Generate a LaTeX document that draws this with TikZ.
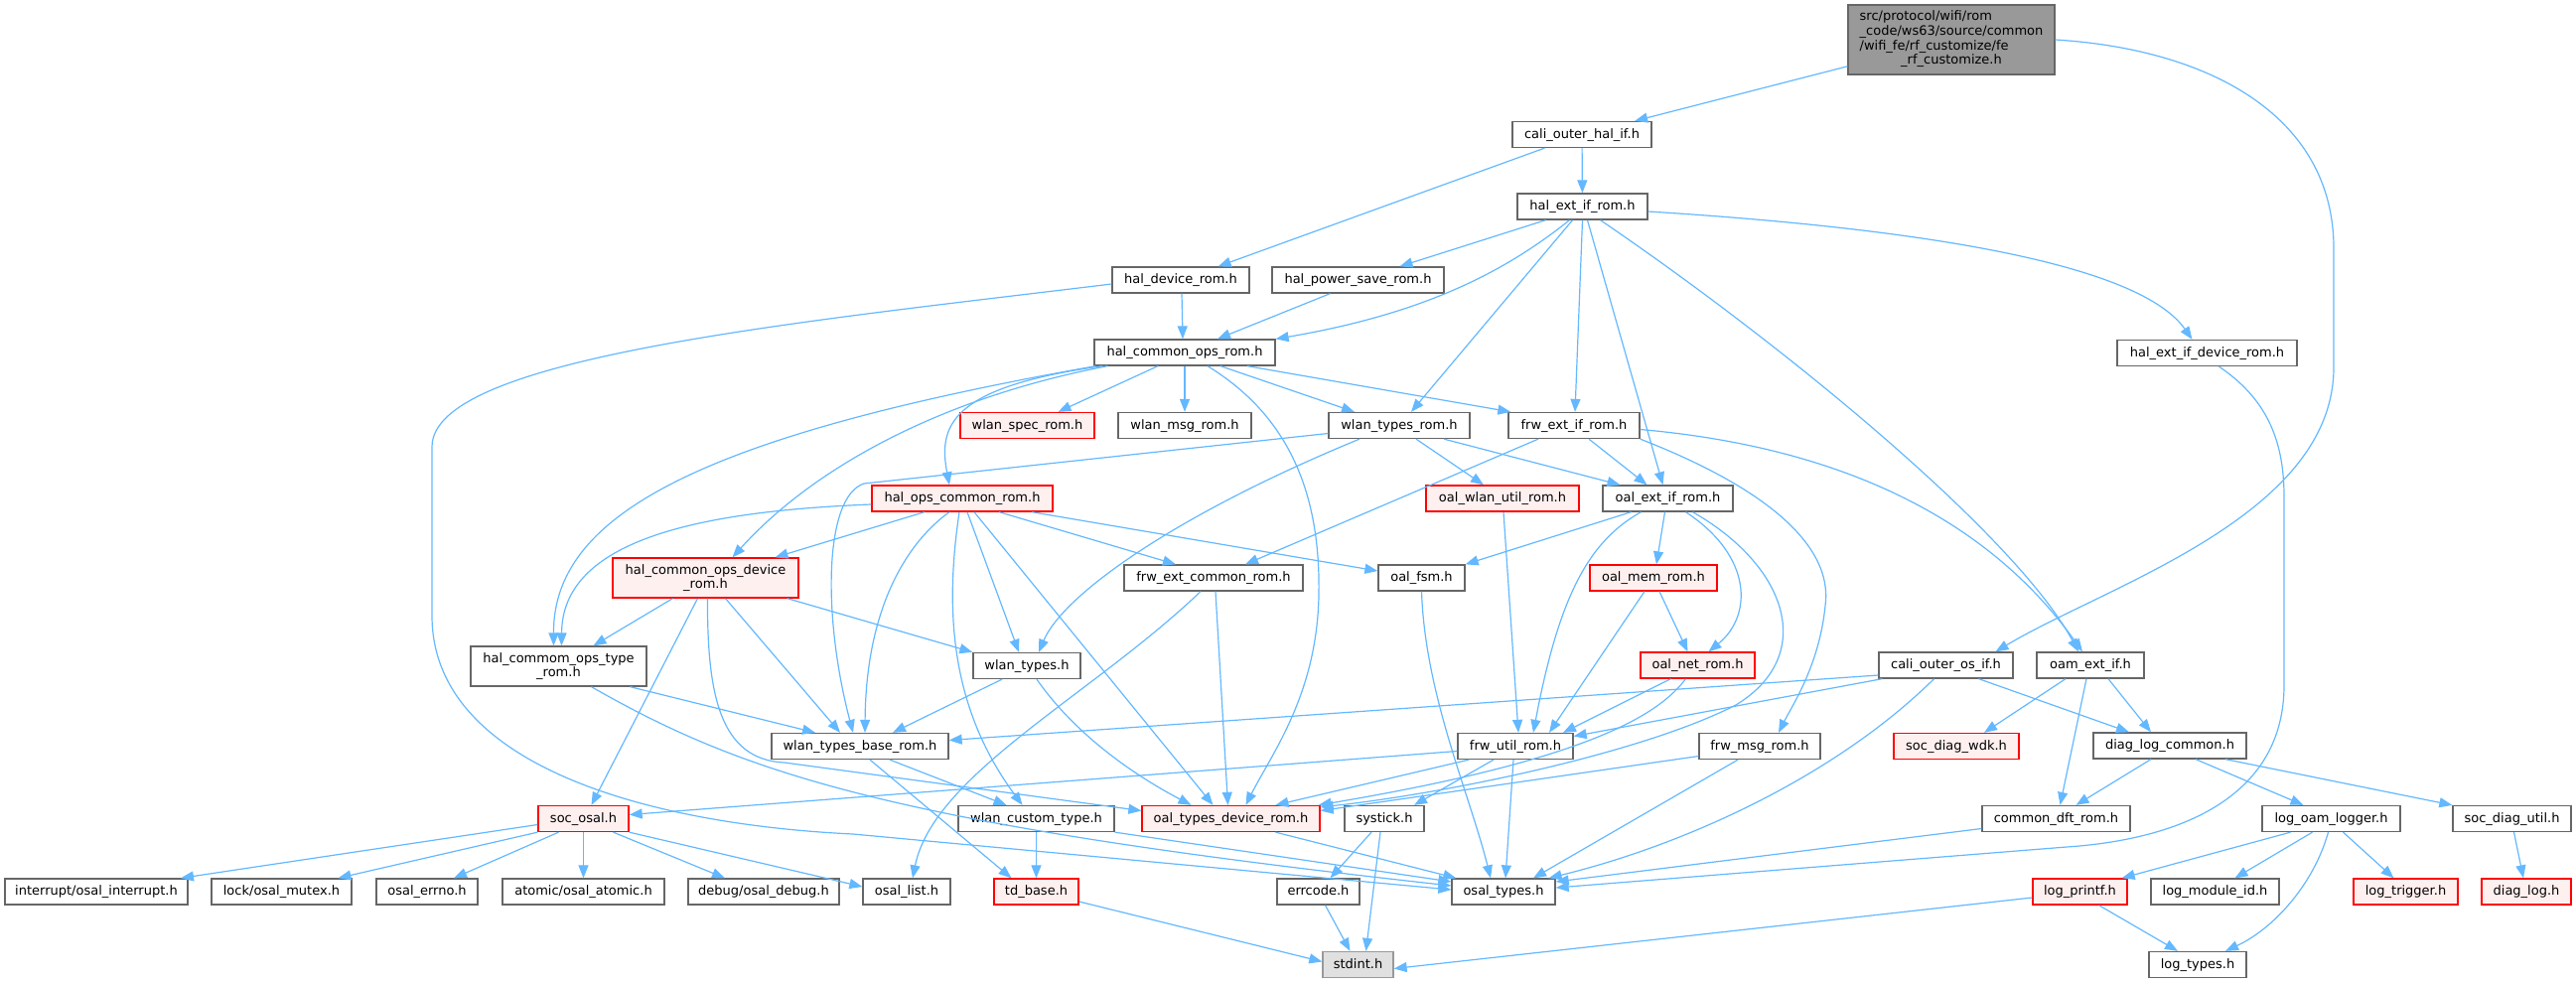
\documentclass[tikz,border=0pt]{standalone}
\usepackage{fontspec}
\setmainfont{DejaVu Sans}
\usetikzlibrary{arrows.meta,calc}
\definecolor{edgec}{HTML}{63B8FF}
\definecolor{g40}{HTML}{666666}
\definecolor{g60}{HTML}{999999}
\definecolor{redfill}{HTML}{FFF0F0}
\definecolor{lgray}{HTML}{E0E0E0}
\tikzset{
 ndb/.style={draw=g40, fill=white, line width=1.3pt, inner sep=0pt, minimum height=26pt, font={\fontsize{13}{14.7}\selectfont}, text=black},
 nd/.style={ndb, text height=10.5pt, text depth=3pt},
 ndr/.style={nd, draw=red, fill=redfill},
 ndrb/.style={ndb, draw=red, fill=redfill, align=center},
 e/.style={draw=edgec, line width=1.2pt, -{Triangle[length=13pt,width=10pt]}},
}
\begin{document}
\begin{tikzpicture}[x=1pt,y=-1pt]
\useasboundingbox (0,0) rectangle (2594,989);
% nodes
\node[ndb,minimum width=208pt,minimum height=70pt,fill=g60] (top) at (1965,40) {\begin{tabular}{@{}l@{}}src/protocol/wifi/rom\\\_code/ws63/source/common\\/wifi\_fe/rf\_customize/fe\\\multicolumn{1}{@{}c@{}}{\_rf\_customize.h}\end{tabular}};
\node[nd,minimum width=140pt] (cohi) at (1593,135.5) {cali\_outer\_hal\_if.h};
\node[nd,minimum width=131pt] (heir) at (1593.5,208) {hal\_ext\_if\_rom.h};
\node[nd,minimum width=138pt] (hdr) at (1189,282) {hal\_device\_rom.h};
\node[nd,minimum width=173pt] (hpsr) at (1367.5,282) {hal\_power\_save\_rom.h};
\node[nd,minimum width=181pt] (heidr) at (2222.5,355.5) {hal\_ext\_if\_device\_rom.h};
\node[nd,minimum width=182pt] (hcor) at (1193,355) {hal\_common\_ops\_rom.h};
\node[ndr,minimum width=135pt] (wsr) at (1034.5,428.5) {wlan\_spec\_rom.h};
\node[nd,minimum width=134pt] (wmr) at (1193,428.5) {wlan\_msg\_rom.h};
\node[nd,minimum width=142pt] (wtr) at (1409,428.5) {wlan\_types\_rom.h};
\node[nd,minimum width=132pt] (feir) at (1585,428.5) {frw\_ext\_if\_rom.h};
\node[ndr,minimum width=182pt] (hocr) at (969,502) {hal\_ops\_common\_rom.h};
\node[ndr,minimum width=154pt] (owur) at (1513,502) {oal\_wlan\_util\_rom.h};
\node[nd,minimum width=131pt] (oeir) at (1679.5,502) {oal\_ext\_if\_rom.h};
\node[ndrb,minimum width=187pt,minimum height=40pt] (hcodr) at (710.5,582) {hal\_common\_ops\_device\\\_rom.h};
\node[nd,minimum width=180pt] (fecr) at (1222,582) {frw\_ext\_common\_rom.h};
\node[nd,minimum width=87pt] (ofsm) at (1431.5,582) {oal\_fsm.h};
\node[ndr,minimum width=128pt] (omr) at (1665,582) {oal\_mem\_rom.h};
\node[ndb,align=center,minimum width=177pt,minimum height=40pt] (hcotr) at (562.5,671) {hal\_commom\_ops\_type\\\_rom.h};
\node[nd,minimum width=108pt] (wt) at (1034,670.5) {wlan\_types.h};
\node[ndr,minimum width=115pt] (onr) at (1709.5,670) {oal\_net\_rom.h};
\node[nd,minimum width=135pt] (coos) at (1959.5,670) {cali\_outer\_os\_if.h};
\node[nd,minimum width=108pt] (oam) at (2105,670) {oam\_ext\_if.h};
\node[nd,minimum width=178pt] (wtbr) at (866,751.5) {wlan\_types\_base\_rom.h};
\node[nd,minimum width=116pt] (fur) at (1526,751.5) {frw\_util\_rom.h};
\node[nd,minimum width=122pt] (fmr) at (1772,751.5) {frw\_msg\_rom.h};
\node[ndr,minimum width=126pt] (sdw) at (1970,751.5) {soc\_diag\_wdk.h};
\node[nd,minimum width=154pt] (dlc) at (2185,751) {diag\_log\_common.h};
\node[ndr,minimum width=91pt] (sosal) at (587.5,824.5) {soc\_osal.h};
\node[nd,minimum width=157pt] (wct) at (1043.5,824.5) {wlan\_custom\_type.h};
\node[ndr,minimum width=179pt] (otdr) at (1239.5,824.5) {oal\_types\_device\_rom.h};
\node[nd,minimum width=80pt] (syst) at (1394,824.5) {systick.h};
\node[nd,minimum width=149pt] (cdr) at (2070.5,824.5) {common\_dft\_rom.h};
\node[nd,minimum width=139pt] (lol) at (2347.5,824.5) {log\_oam\_logger.h};
\node[nd,minimum width=119pt] (sdu) at (2529.5,824.5) {soc\_diag\_util.h};
\node[nd,minimum width=184pt] (oint) at (97,898) {interrupt/osal\_interrupt.h};
\node[nd,minimum width=141pt] (omut) at (283.5,898) {lock/osal\_mutex.h};
\node[nd,minimum width=102pt] (oerr) at (430,898) {osal\_errno.h};
\node[nd,minimum width=163pt] (oato) at (587.5,898) {atomic/osal\_atomic.h};
\node[nd,minimum width=152pt] (odbg) at (769,898) {debug/osal\_debug.h};
\node[nd,minimum width=88pt] (olist) at (913,898) {osal\_list.h};
\node[ndr,minimum width=85pt] (tdb) at (1043.5,898) {td\_base.h};
\node[nd,minimum width=83pt] (errc) at (1327.5,898) {errcode.h};
\node[nd,minimum width=104pt] (otypes) at (1514,898) {osal\_types.h};
\node[ndr,minimum width=95pt] (lpf) at (2094.5,898) {log\_printf.h};
\node[nd,minimum width=129pt] (lmid) at (2230.5,898) {log\_module\_id.h};
\node[ndr,minimum width=105pt] (ltrig) at (2422.5,898) {log\_trigger.h};
\node[ndr,minimum width=90pt] (dlog) at (2544,898) {diag\_log.h};
\node[nd,minimum width=71pt,fill=lgray,draw=g60] (stdint) at (1367.5,971.5) {stdint.h};
\node[nd,minimum width=98pt] (ltypes) at (2213,971.5) {log\_types.h};
% edges
\draw[e] (top) -- (cohi);
\draw[e] (top.east) .. controls (2230,50) and (2350,120) .. (2350,250) -- (2350,370) .. controls (2350,520) and (2120,590) .. ($(coos.north)+(50,0)$);
\draw[e] (cohi) -- (heir);
\draw[e] (cohi) -- (hdr);
\draw[e] ($(heir.south)+(-37,0)$) -- ($(hpsr.north)+(42,0)$);
\draw[e] ($(heir.south)+(-13,0)$) .. controls (1520,270) and (1440,315) .. (hcor.north east);
\draw[e] ($(heir.south)+(-10,0)$) -- ($(wtr.north)+(12,0)$);
\draw[e] (heir.south) -- ($(feir.north)+(1,0)$);
\draw[e] ($(heir.south)+(5,0)$) -- ($(oeir.north)+(-5,0)$);
\draw[e] ($(heir.south)+(18,0)$) .. controls (1800,350) and (2030,540) .. ($(oam.north)+(-12,0)$);
\draw[e] ($(heir.east)+(0,5)$) .. controls (1900,228) and (2150,260) .. ($(heidr.north)+(-15,0)$);
\draw[e] ($(heidr.south)+(12,0)$) .. controls (2280,400) and (2300,440) .. (2300,500) -- (2300,690) .. controls (2300,800) and (2200,845) .. (2081,853) -- ($(otypes.east)+(0,-4)$);
\draw[e] ($(hdr.south)+(1,0)$) -- ($(hcor.north)+(-2,0)$);
\draw[e] ($(hdr.west)+(0,4)$) .. controls (800,325) and (435,360) .. (435,450) -- (435,620) .. controls (435,770) and (650,830) .. (859,840) -- ($(otypes.west)+(0,-2)$);
\draw[e] ($(hpsr.south)+(-28,0)$) -- ($(hcor.north)+(33,0)$);
\draw[e] ($(hcor.south)+(-27,0)$) -- ($(wsr.north)+(31,0)$);
\draw[e] (hcor.south) -- (wmr.north);
\draw[e] ($(hcor.south)+(36,0)$) -- ($(wtr.north)+(-45,0)$);
\draw[e] ($(hcor.south)+(63,0)$) -- ($(feir.north west)+(3,0)$);
\draw[e] ($(hcor.south west)+(2,0)$) .. controls (700,440) and (557,520) .. ($(hcotr.north)+(-5,0)$);
\draw[e] ($(hcor.south west)+(14,0)$) .. controls (950,400) and (820,470) .. ($(hcodr.north)+(27,0)$);
\draw[e] ($(hcor.south west)+(9,0)$) .. controls (955,390) and (945,430) .. ($(hocr.north)+(-13,0)$);
\draw[e] ($(hcor.south)+(23,0)$) .. controls (1300,420) and (1330,500) .. (1328,600) .. controls (1326,700) and (1280,760) .. ($(otdr.north)+(15,0)$);
\draw[e] ($(wtr.west)+(0,8)$) -- (870,487) .. controls (830,500) and (828,620) .. ($(wtbr.north)+(-7,0)$);
\draw[e] ($(wtr.south)+(-40,0)$) .. controls (1180,520) and (1070,600) .. ($(wt.north)+(12,0)$);
\draw[e] ($(wtr.south)+(17,0)$) -- ($(owur.north)+(-19,0)$);
\draw[e] ($(wtr.south)+(45,0)$) -- ($(oeir.north)+(-48,0)$);
\draw[e] ($(feir.south)+(15,0)$) -- ($(oeir.north)+(-21,0)$);
\draw[e] ($(feir.south)+(-36,0)$) -- ($(fecr.north)+(32,0)$);
\draw[e] ($(feir.east)+(0,4)$) .. controls (1850,450) and (2000,520) .. ($(oam.north)+(-8,0)$);
\draw[e] (feir.south east) .. controls (1800,500) and (1845,560) .. (1838,610) .. controls (1832,670) and (1805,710) .. ($(fmr.north)+(19,0)$);
\draw[e] ($(hocr.west)+(0,6)$) .. controls (700,515) and (566,545) .. ($(hcotr.north)+(3,0)$);
\draw[e] ($(hocr.south)+(-38,0)$) -- ($(hcodr.north)+(70,0)$);
\draw[e] ($(hocr.south)+(-13,0)$) .. controls (915,545) and (872,610) .. ($(wtbr.north)+(5,0)$);
\draw[e] ($(hocr.south)+(-3,0)$) .. controls (952,610) and (955,710) .. ($(wct.north)+(-14,0)$);
\draw[e] ($(hocr.south)+(5,0)$) -- ($(wt.north)+(-8,0)$);
\draw[e] ($(hocr.south)+(12,0)$) -- ($(otdr.north)+(-18,0)$);
\draw[e] ($(hocr.south)+(37,0)$) -- ($(fecr.north)+(-38,0)$);
\draw[e] ($(hocr.south)+(70,0)$) -- ($(ofsm.west)+(0,-7)$);
\draw[e] ($(owur.south)+(1,0)$) -- ($(fur.north)+(3,0)$);
\draw[e] ($(oeir.south)+(-37,0)$) -- (ofsm.north east);
\draw[e] ($(oeir.south)+(-27,0)$) .. controls (1600,545) and (1570,600) .. ($(fur.north)+(18,0)$);
\draw[e] ($(oeir.south)+(-3,0)$) -- ($(omr.north)+(3,0)$);
\draw[e] ($(oeir.south)+(18,0)$) .. controls (1765,560) and (1765,620) .. ($(onr.north)+(11,0)$);
\draw[e] ($(oeir.south)+(25,0)$) .. controls (1800,570) and (1830,660) .. (1748,710) .. controls (1650,760) and (1450,800) .. ($(otdr.north east)+(0,2)$);
\draw[e] ($(hcodr.south)+(-33,0)$) -- ($(hcotr.north)+(35,0)$);
\draw[e] ($(hcodr.south)+(-8,0)$) -- ($(sosal.north)+(8,0)$);
\draw[e] ($(hcodr.south)+(2,0)$) .. controls (712,700) and (725,765) .. (790,768) -- ($(otdr.west)+(0,-8)$);
\draw[e] ($(hcodr.south)+(20,0)$) -- ($(wtbr.north)+(-20,0)$);
\draw[e] ($(hcodr.south east)+(-12,0)$) -- (wt.north west);
\draw[e] ($(fecr.south)+(2,0)$) -- ($(otdr.north)+(-3,0)$);
\draw[e] ($(fecr.south)+(-13,0)$) .. controls (1100,700) and (940,780) .. ($(olist.north)+(6,0)$);
\draw[e] (ofsm.south) .. controls (1435,700) and (1480,800) .. ($(otypes.north)+(-13,0)$);
\draw[e] ($(omr.south)+(-9,0)$) -- ($(fur.north)+(34,0)$);
\draw[e] ($(omr.south)+(6,0)$) -- ($(onr.north)+(-10,0)$);
\draw[e] ($(hcotr.south)+(72,0)$) -- ($(wtbr.north)+(-45,0)$);
\draw[e] ($(hcotr.south)+(33,0)$) .. controls (750,780) and (900,830) .. ($(otypes.west)+(0,-6)$);
\draw[e] ($(wt.south)+(-25,0)$) -- ($(wtbr.north)+(33,0)$);
\draw[e] ($(wt.south)+(10,0)$) .. controls (1090,750) and (1160,790) .. ($(otdr.north)+(-40,0)$);
\draw[e] ($(onr.south)+(-27,0)$) -- ($(fur.north)+(48,0)$);
\draw[e] ($(onr.south)+(-12,0)$) .. controls (1670,720) and (1600,765) .. ($(otdr.north east)+(-2,0)$);
\draw[e] ($(coos.west)+(0,10)$) -- ($(wtbr.east)+(0,-6)$);
\draw[e] ($(coos.south west)+(4,0)$) -- ($(fur.east)+(0,-10)$);
\draw[e] ($(coos.south)+(-12,0)$) .. controls (1850,780) and (1700,850) .. ($(otypes.north east)+(-7,0)$);
\draw[e] ($(coos.south)+(33,0)$) -- ($(dlc.north)+(-41,0)$);
\draw[e] ($(oam.south)+(-25,0)$) -- ($(sdw.north)+(28,0)$);
\draw[e] ($(oam.south)+(-4,0)$) -- ($(cdr.north)+(4,0)$);
\draw[e] ($(oam.south)+(18,0)$) -- ($(dlc.north)+(-19,0)$);
\draw[e] ($(wtbr.south)+(30,0)$) -- ($(wct.north)+(-30,0)$);
\draw[e] ($(wtbr.south)+(10,0)$) -- ($(tdb.north)+(-25,0)$);
\draw[e] ($(fur.west)+(0,5)$) -- ($(sosal.east)+(0,-4)$);
\draw[e] ($(fur.south)+(-47,0)$) -- ($(otdr.north)+(45,0)$);
\draw[e] ($(fur.south)+(-22,0)$) -- ($(syst.north)+(30,0)$);
\draw[e] ($(fur.south)+(-2,0)$) -- ($(otypes.north)+(2,0)$);
\draw[e] ($(fmr.west)+(0,10)$) -- ($(otdr.east)+(0,-8)$);
\draw[e] ($(fmr.south)+(-22,0)$) -- ($(otypes.north)+(30,0)$);
\draw[e] ($(dlc.south)+(-19,0)$) -- ($(cdr.north)+(20,0)$);
\draw[e] ($(dlc.south)+(26,0)$) -- ($(lol.north)+(-28,0)$);
\draw[e] ($(dlc.south)+(56,0)$) -- (sdu.north west);
\draw[e] ($(sosal.west)+(0,6)$) -- ($(oint.north)+(85,0)$);
\draw[e] (sosal.south west) -- ($(omut.north)+(57,0)$);
\draw[e] ($(sosal.south)+(-25,0)$) -- ($(oerr.north)+(27,0)$);
\draw[e] (sosal.south) -- (oato.north);
\draw[e] ($(sosal.south)+(30,0)$) -- ($(odbg.north)+(-39,0)$);
\draw[e] (sosal.south east) -- ($(olist.west)+(0,-5)$);
\draw[e] (wct.south) -- (tdb.north);
\draw[e] (wct.south east) -- ($(otypes.west)+(0,-10)$);
\draw[e] ($(otdr.south)+(45,0)$) -- ($(otypes.north west)+(5,0)$);
\draw[e] ($(syst.south)+(-13,0)$) -- ($(errc.north)+(12,0)$);
\draw[e] ($(syst.south)+(-4,0)$) -- ($(stdint.north)+(8,0)$);
\draw[e] ($(errc.south)+(7,0)$) -- ($(stdint.north)+(-8,0)$);
\draw[e] ($(tdb.east)+(0,10)$) -- ($(stdint.west)+(0,-3)$);
\draw[e] ($(cdr.west)+(0,10)$) -- ($(otypes.east)+(0,-10)$);
\draw[e] ($(lol.south)+(-41,0)$) -- ($(lpf.north east)+(-6,0)$);
\draw[e] ($(lol.south)+(-19,0)$) -- ($(lmid.north)+(20,0)$);
\draw[e] ($(lol.south)+(-3,0)$) .. controls (2330,890) and (2290,935) .. ($(ltypes.north)+(28,0)$);
\draw[e] ($(lol.south)+(12,0)$) -- ($(ltrig.north)+(-12,0)$);
\draw[e] ($(sdu.south)+(2,0)$) -- ($(dlog.north)+(-3,0)$);
\draw[e] ($(lpf.south)+(19,0)$) -- ($(ltypes.north)+(-20,0)$);
\draw[e] ($(lpf.west)+(0,6)$) -- ($(stdint.east)+(0,4)$);
\end{tikzpicture}
\end{document}
